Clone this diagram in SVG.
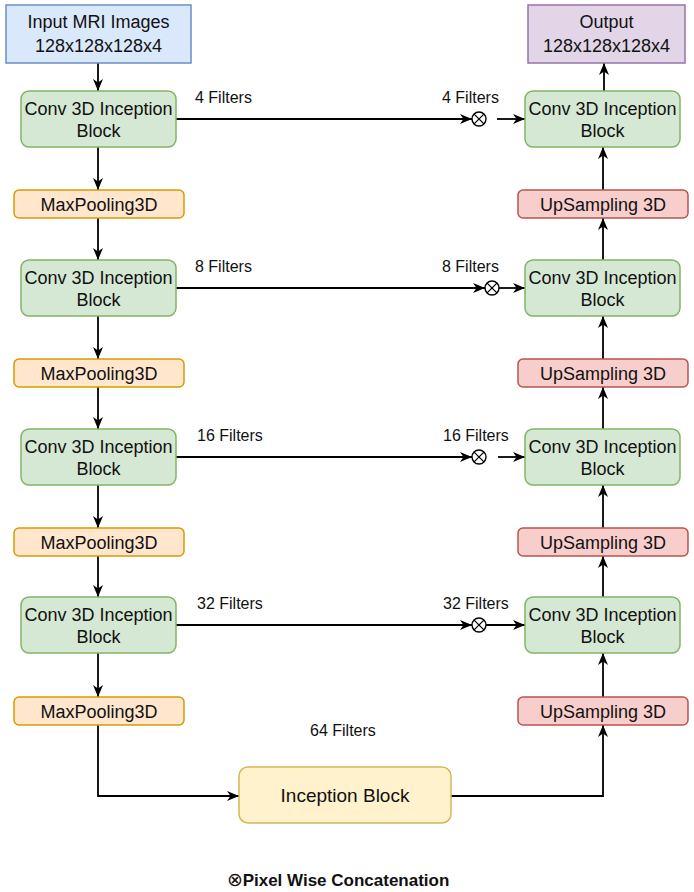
<svg xmlns="http://www.w3.org/2000/svg" width="694" height="892" viewBox="0 0 694 892">
<style>
text{font-family:"Liberation Sans",Arial,sans-serif;fill:#111;text-anchor:middle}
.t{font-size:18px}
.f{font-size:16px;text-anchor:start}
.c{stroke:#000;stroke-width:1.8;fill:none}
.x{stroke:#000;stroke-width:1.3;fill:none}
.blue{fill:#dae8fc;stroke:#6c8ebf;stroke-width:1.5}
.purple{fill:#e1d5e7;stroke:#9673a6;stroke-width:1.5}
.green{fill:#d5e8d4;stroke:#82b366;stroke-width:1.5}
.orange{fill:#ffe6cc;stroke:#d79b00;stroke-width:1.5}
.red{fill:#f8cecc;stroke:#b85450;stroke-width:1.5}
.yellow{fill:#fff2cc;stroke:#d6b656;stroke-width:1.5}
.cat{fill:#fff;stroke:#000;stroke-width:1.4}
</style>
<defs>
<marker id="ah" viewBox="0 0 12 12" refX="12" refY="6" markerWidth="12" markerHeight="12" markerUnits="userSpaceOnUse" orient="auto">
<path d="M0,1 L12,6 L0,11 L3.5,6 Z" fill="#000"/>
</marker>
</defs>

<g id="connectors">
<g marker-end="url(#ah)" class="c">
<line x1="98" y1="63" x2="98" y2="91"/>
<line x1="98" y1="147" x2="98" y2="190"/>
<line x1="98" y1="218" x2="98" y2="260"/>
<line x1="98" y1="316" x2="98" y2="359"/>
<line x1="98" y1="387" x2="98" y2="429"/>
<line x1="98" y1="485" x2="98" y2="528"/>
<line x1="98" y1="556" x2="98" y2="597"/>
<line x1="98" y1="653" x2="98" y2="697"/>
<path d="M98,725 V796 H239"/>
<line x1="604" y1="91" x2="604" y2="63"/>
<line x1="603" y1="190" x2="603" y2="147"/>
<line x1="603" y1="260" x2="603" y2="218"/>
<line x1="603" y1="359" x2="603" y2="316"/>
<line x1="603" y1="429" x2="603" y2="387"/>
<line x1="603" y1="528" x2="603" y2="485"/>
<line x1="603" y1="597" x2="603" y2="556"/>
<line x1="603" y1="697" x2="603" y2="653"/>
<path d="M451,796 H603 V725"/>
<line x1="176" y1="119" x2="472" y2="119"/>
<line x1="497" y1="119" x2="525" y2="119"/>
<line x1="176" y1="288" x2="485" y2="288"/>
<line x1="499" y1="288" x2="525" y2="288"/>
<line x1="176" y1="457" x2="472" y2="457"/>
<line x1="498" y1="457" x2="525" y2="457"/>
<line x1="176" y1="625" x2="472" y2="625"/>
<line x1="486" y1="625" x2="525" y2="625"/>
</g>
<g id="concat1"><circle class="cat" cx="479" cy="119" r="7"/><path class="x" d="M474.1,114.1 L483.9,123.9 M483.9,114.1 L474.1,123.9"/></g>
<g id="concat2"><circle class="cat" cx="492" cy="288" r="7"/><path class="x" d="M487.1,283.1 L496.9,292.9 M496.9,283.1 L487.1,292.9"/></g>
<g id="concat3"><circle class="cat" cx="479" cy="457" r="7"/><path class="x" d="M474.1,452.1 L483.9,461.9 M483.9,452.1 L474.1,461.9"/></g>
<g id="concat4"><circle class="cat" cx="479" cy="625" r="7"/><path class="x" d="M474.1,620.1 L483.9,629.9 M483.9,620.1 L474.1,629.9"/></g>
<text class="f" x="195" y="103">4 Filters</text>
<text class="f" x="442" y="103">4 Filters</text>
<text class="f" x="195" y="272">8 Filters</text>
<text class="f" x="442" y="272">8 Filters</text>
<text class="f" x="197" y="441">16 Filters</text>
<text class="f" x="443" y="441">16 Filters</text>
<text class="f" x="197" y="609">32 Filters</text>
<text class="f" x="443" y="609">32 Filters</text>
<text class="f" x="310" y="736">64 Filters</text>
</g>

<g id="input"><rect class="blue" x="6" y="5" width="185" height="58"/><text class="t" x="98.5" y="28">Input MRI Images</text><text class="t" x="98.5" y="52">128x128x128x4</text></g>
<g id="output"><rect class="purple" x="528" y="5" width="157" height="58"/><text class="t" x="606.5" y="28">Output</text><text class="t" x="606.5" y="52">128x128x128x4</text></g>

<g id="enc1"><rect class="green" x="21" y="91" width="155" height="56" rx="8"/><text class="t" x="98.5" y="114.5">Conv 3D Inception</text><text class="t" x="98.5" y="137">Block</text></g>
<g id="enc2"><rect class="green" x="21" y="260" width="155" height="56" rx="8"/><text class="t" x="98.5" y="283.5">Conv 3D Inception</text><text class="t" x="98.5" y="306">Block</text></g>
<g id="enc3"><rect class="green" x="21" y="429" width="155" height="56" rx="8"/><text class="t" x="98.5" y="452.5">Conv 3D Inception</text><text class="t" x="98.5" y="475">Block</text></g>
<g id="enc4"><rect class="green" x="21" y="597" width="155" height="56" rx="8"/><text class="t" x="98.5" y="620.5">Conv 3D Inception</text><text class="t" x="98.5" y="643">Block</text></g>

<g id="pool1"><rect class="orange" x="14" y="190" width="170" height="28" rx="5"/><text class="t" x="99" y="210.5">MaxPooling3D</text></g>
<g id="pool2"><rect class="orange" x="14" y="359" width="170" height="28" rx="5"/><text class="t" x="99" y="379.5">MaxPooling3D</text></g>
<g id="pool3"><rect class="orange" x="14" y="528" width="170" height="28" rx="5"/><text class="t" x="99" y="548.5">MaxPooling3D</text></g>
<g id="pool4"><rect class="orange" x="14" y="697" width="170" height="28" rx="5"/><text class="t" x="99" y="717.5">MaxPooling3D</text></g>

<g id="dec1"><rect class="green" x="525" y="91" width="155" height="56" rx="8"/><text class="t" x="602.5" y="114.5">Conv 3D Inception</text><text class="t" x="602.5" y="137">Block</text></g>
<g id="dec2"><rect class="green" x="525" y="260" width="155" height="56" rx="8"/><text class="t" x="602.5" y="283.5">Conv 3D Inception</text><text class="t" x="602.5" y="306">Block</text></g>
<g id="dec3"><rect class="green" x="525" y="429" width="155" height="56" rx="8"/><text class="t" x="602.5" y="452.5">Conv 3D Inception</text><text class="t" x="602.5" y="475">Block</text></g>
<g id="dec4"><rect class="green" x="525" y="597" width="155" height="56" rx="8"/><text class="t" x="602.5" y="620.5">Conv 3D Inception</text><text class="t" x="602.5" y="643">Block</text></g>

<g id="up1"><rect class="red" x="518" y="190" width="170" height="28" rx="5"/><text class="t" x="603" y="210.5">UpSampling 3D</text></g>
<g id="up2"><rect class="red" x="518" y="359" width="170" height="28" rx="5"/><text class="t" x="603" y="379.5">UpSampling 3D</text></g>
<g id="up3"><rect class="red" x="518" y="528" width="170" height="28" rx="5"/><text class="t" x="603" y="548.5">UpSampling 3D</text></g>
<g id="up4"><rect class="red" x="518" y="697" width="170" height="28" rx="5"/><text class="t" x="603" y="717.5">UpSampling 3D</text></g>

<g id="bottleneck"><rect class="yellow" x="239" y="767" width="212" height="56" rx="9"/><text x="345" y="802" style="font-size:19px">Inception Block</text></g>

<g id="legend"><text x="338" y="886" style="font-size:17px;font-weight:bold"><tspan style="font-size:19px;font-weight:normal">⊗</tspan>Pixel Wise Concatenation</text></g>
</svg>
